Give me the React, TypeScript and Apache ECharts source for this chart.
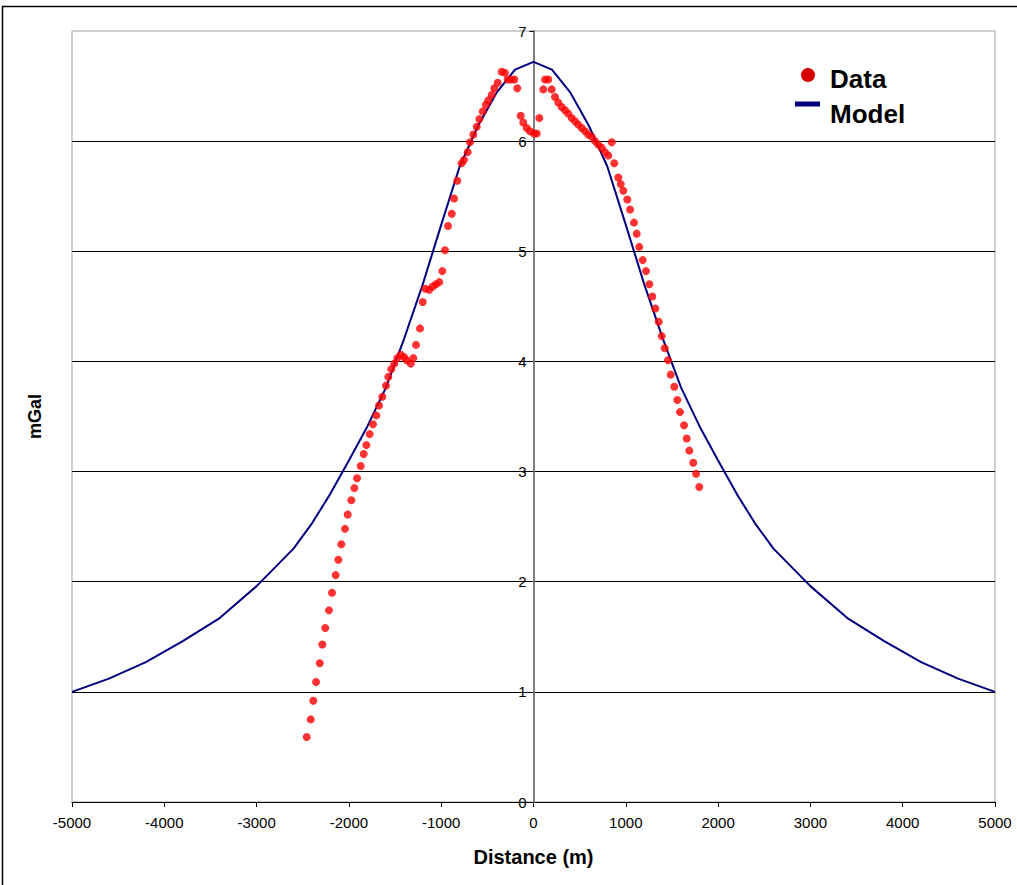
import React, { useEffect, useRef } from "react";
import * as echarts from "echarts";

// Measured gravity data (distance in m, anomaly in mGal)
const dataX = [
  -2457, -2414, -2386, -2356, -2316, -2288, -2256, -2216, -2183, -2143,
  -2115, -2082, -2042, -2013, -1974, -1941, -1912, -1872, -1840, -1811,
  -1775, -1739, -1703, -1674, -1638, -1598, -1573, -1541, -1508, -1476,
  -1439, -1403, -1374, -1330, -1302, -1273, -1230, -1200, -1172, -1129,
  -1092, -1056, -1021, -988, -959, -926, -886, -861, -826, -778,
  -753, -713, -688, -652, -615, -587, -550, -515, -490, -453,
  -425, -388, -345, -309, -280, -244, -208, -176, -139, -111,
  -74, -38, 5, 35, 63, 106, 125, 160, 197, 233,
  269, 306, 341, 377, 414, 450, 485, 522, 558, 594,
  631, 666, 702, 739, 775, 810, 847, 875, 919, 945,
  973, 1016, 1046, 1089, 1118, 1146, 1183, 1219, 1255, 1287,
  1320, 1356, 1389, 1421, 1457, 1486, 1525, 1558, 1587, 1631,
  1660, 1688, 1731, 1761, 1796,
];
const dataY = [
  0.59, 0.75, 0.92, 1.09, 1.26, 1.43, 1.58, 1.74, 1.9, 2.06,
  2.2, 2.34, 2.48, 2.61, 2.74, 2.85, 2.94, 3.05, 3.16, 3.24,
  3.34, 3.43, 3.51, 3.6, 3.68, 3.78, 3.86, 3.93, 3.98, 4.03,
  4.06, 4.04, 4.01, 3.98, 4.03, 4.15, 4.3, 4.54, 4.66, 4.65,
  4.68, 4.7, 4.72, 4.82, 5.01, 5.23, 5.34, 5.48, 5.64, 5.8,
  5.83, 5.9, 5.99, 6.06, 6.13, 6.2, 6.27, 6.33, 6.37, 6.42,
  6.48, 6.53, 6.63, 6.62, 6.56, 6.56, 6.56, 6.48, 6.23, 6.17,
  6.12, 6.09, 6.07, 6.07, 6.21, 6.47, 6.56, 6.56, 6.47, 6.4,
  6.35, 6.31, 6.28, 6.25, 6.21, 6.18, 6.15, 6.12, 6.09, 6.06,
  6.04, 6.0, 5.97, 5.94, 5.9, 5.87, 5.99, 5.8, 5.67, 5.61,
  5.55, 5.47, 5.38, 5.26, 5.16, 5.04, 4.92, 4.82, 4.7, 4.59,
  4.48, 4.36, 4.23, 4.12, 4.01, 3.88, 3.77, 3.65, 3.54, 3.42,
  3.3, 3.19, 3.08, 2.98, 2.86,
];

// Model curve
const modelX = [
  -5000, -4600, -4200, -3800, -3400, -3000, -2600, -2400, -2200, -2000,
  -1800, -1600, -1400, -1200, -1000, -800, -600, -400, -200, 0,
  200, 400, 600, 800, 1000, 1200, 1400, 1600, 1800, 2000,
  2200, 2400, 2600, 3000, 3400, 3800, 4200, 4600, 5000,
];
const modelY = [
  1.0, 1.12, 1.27, 1.46, 1.67, 1.96, 2.3, 2.53, 2.8, 3.1,
  3.41, 3.76, 4.21, 4.7, 5.24, 5.77, 6.14, 6.44, 6.65, 6.72,
  6.65, 6.44, 6.14, 5.77, 5.24, 4.7, 4.21, 3.76, 3.41, 3.1,
  2.8, 2.53, 2.3, 1.96, 1.67, 1.46, 1.27, 1.12, 1.0,
];

const xTicks = { min: -5000, max: 5000, interval: 1000 };
const yTicks = { min: 0, max: 7, interval: 1 };
const legendNames = ["Data", "Model"];
const xTitle = "Distance (m)";
const yTitle = "mGal";

const FONT = "'Liberation Sans', Arial, Helvetica, sans-serif";

const GRID_LEFT = 72;
const GRID_RIGHT = 22;
const CHART_W = 1017;

export default function App() {
  const ref = useRef<HTMLDivElement>(null);

  useEffect(() => {
    document.body.style.margin = "0";
    if (!ref.current) return;
    const chart = echarts.init(ref.current, undefined, { renderer: "svg" });
    const plotW = CHART_W - GRID_LEFT - GRID_RIGHT;
    // move the value axis to x = 0 of the distance axis
    const zeroOffset = -plotW * ((0 - xTicks.min) / (xTicks.max - xTicks.min));
    const option: any = {
      animation: false,
      backgroundColor: "#ffffff",
      grid: {
        left: GRID_LEFT,
        right: GRID_RIGHT,
        top: 31,
        bottom: 83,
        show: true,
        borderColor: "#a0a0a0",
        borderWidth: 1,
        backgroundColor: "transparent",
      },
      xAxis: {
        type: "value",
        min: xTicks.min,
        max: xTicks.max,
        interval: xTicks.interval,
        name: xTitle,
        nameLocation: "middle",
        nameGap: 45,
        nameTextStyle: { fontSize: 20, fontWeight: "bold", color: "#000", fontFamily: FONT },
        axisLine: { show: true, onZero: false, lineStyle: { color: "#000", width: 1 } },
        axisTick: { show: true, length: 5, lineStyle: { color: "#000" } },
        axisLabel: {
          fontSize: 15,
          color: "#000",
          margin: 13,
          fontFamily: FONT,
          formatter: (v: number) => String(v),
        },
        splitLine: { show: false },
      },
      yAxis: [
        {
          type: "value",
          min: yTicks.min,
          max: yTicks.max,
          interval: yTicks.interval,
          position: "left",
          offset: zeroOffset,
          axisLine: { show: true, onZero: false, lineStyle: { color: "#808080", width: 2 } },
          axisTick: { show: true, length: 4, lineStyle: { color: "#000" } },
          axisLabel: { fontSize: 15, color: "#000", margin: 7, fontFamily: FONT },
          splitLine: { show: true, showMaxLine: false, lineStyle: { color: "#000", width: 1 } },
          z: 1,
        },
        {
          type: "value",
          min: yTicks.min,
          max: yTicks.max,
          interval: yTicks.interval,
          position: "left",
          offset: 0,
          name: yTitle,
          nameLocation: "middle",
          nameGap: 28,
          nameRotate: 90,
          nameTextStyle: { fontSize: 18, fontWeight: "bold", color: "#000", fontFamily: FONT },
          axisLine: { show: false },
          axisTick: { show: false },
          axisLabel: { show: false },
          splitLine: { show: false },
        },
      ],
      series: [
        {
          name: legendNames[1],
          type: "line",
          data: modelX.map((x, i) => [x, modelY[i]]),
          showSymbol: false,
          symbol: "none",
          lineStyle: { color: "#000080", width: 2 },
          z: 2,
          markLine: {
            silent: true,
            symbol: "none",
            label: { show: false },
            lineStyle: { color: "#808080", width: 2, type: "solid" },
            data: [{ xAxis: 0 }],
            z: 1,
          },
        },
        {
          name: legendNames[0],
          type: "scatter",
          data: dataX.map((x, i) => [x, dataY[i]]),
          symbol: "circle",
          symbolSize: 8,
          itemStyle: { color: "#ff0000" },
          z: 3,
        },
      ],
      graphic: [
        {
          type: "rect",
          silent: true,
          z: -10,
          shape: { x: 2.5, y: 6.5, width: 1100, height: 1000 },
          style: { fill: "transparent", stroke: "#000", lineWidth: 1.5 },
        },
        {
          type: "circle",
          shape: { cx: 808, cy: 75, r: 7 },
          style: { fill: "#d40000" },
        },
        {
          type: "text",
          x: 830,
          y: 79,
          style: {
            text: legendNames[0],
            fill: "#000",
            font: `bold 26px ${FONT}`,
            verticalAlign: "middle",
            align: "left",
          },
        },
        {
          type: "rect",
          shape: { x: 795, y: 101.5, width: 25, height: 5 },
          style: { fill: "#000080" },
        },
        {
          type: "text",
          x: 830,
          y: 114,
          style: {
            text: legendNames[1],
            fill: "#000",
            font: `bold 26px ${FONT}`,
            verticalAlign: "middle",
            align: "left",
          },
        },
      ],
    };
    chart.setOption(option);
    return () => chart.dispose();
  }, []);

  return (
    <div
      ref={ref}
      style={{ position: "fixed", left: 0, top: 0, width: CHART_W, height: 885, background: "#fff" }}
    />
  );
}
